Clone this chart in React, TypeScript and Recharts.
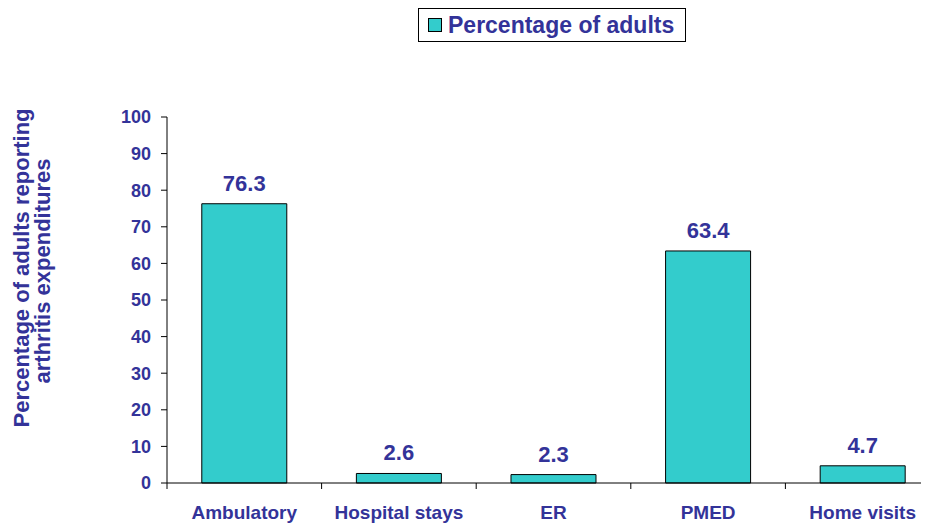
import { BarChart, Bar, XAxis, YAxis, Legend, LabelList, Label } from 'recharts';

const categories = ['Ambulatory', 'Hospital stays', 'ER', 'PMED', 'Home visits'];
const percentages = [76.3, 2.6, 2.3, 63.4, 4.7];
const yTicks = [0, 10, 20, 30, 40, 50, 60, 70, 80, 90, 100];

const data = categories.map((name, i) => ({ name, value: percentages[i] }));

const FONT = '"Liberation Sans", Arial, sans-serif';
const TEXT = '#333399';

const CategoryTick = (props: any) => {
  const { x, y, payload, width } = props;
  const half = width / categories.length / 2;
  return (
    <g>
      <line x1={x - half} y1={y - 8} x2={x - half} y2={y - 2} stroke="#000" />
      <text x={x} y={y + 28} textAnchor="middle" fill={TEXT} fontFamily={FONT} fontWeight="bold" fontSize={19}>
        {payload.value}
      </text>
    </g>
  );
};

const LegendBox = () => (
  <div
    style={{
      position: 'absolute',
      left: 410,
      top: 0,
      width: 268,
      height: 34,
      border: '1px solid #000',
      background: '#fff',
      display: 'flex',
      alignItems: 'center',
      fontFamily: FONT,
      fontWeight: 'bold',
      fontSize: 23,
      color: TEXT,
      boxSizing: 'border-box',
      whiteSpace: 'nowrap',
    }}
  >
    <span style={{ display: 'inline-block', width: 12, height: 12, background: '#33CCCC', border: '1px solid #000', marginLeft: 9, marginRight: 6 }} />
    Percentage of adults
  </div>
);

const YTitle = (props: any) => {
  const { viewBox } = props;
  const cy = viewBox.y + viewBox.height / 2;
  return (
    <g fontFamily={FONT} fontWeight="bold" fontSize={22} fill={TEXT} textAnchor="middle">
      <text transform={`translate(${13}, ${cy - 32}) rotate(-90)`} dominantBaseline="central">
        Percentage of adults reporting
      </text>
      <text transform={`translate(${34}, ${cy - 29}) rotate(-90)`} dominantBaseline="central">
        arthritis expenditures
      </text>
    </g>
  );
};

export default function App() {
  return (
    <div style={{ width: 921, height: 516, overflow: 'hidden', position: 'relative' }}>
      <BarChart
        width={940}
        height={516}
        data={data}
        margin={{ top: 109, right: 8, bottom: 11, left: 99 }}
        barCategoryGap="22.5%"
      >
        <Legend content={() => <LegendBox />} wrapperStyle={{ top: 0, left: 0, width: 921 }} />
        <XAxis
          dataKey="name"
          height={30}
          axisLine={{ stroke: '#000' }}
          tickLine={false}
          tick={<CategoryTick />}
          interval={0}
        />
        <YAxis
          width={60}
          domain={[0, 100]}
          ticks={yTicks}
          interval={0}
          axisLine={{ stroke: '#000' }}
          tickLine={{ stroke: '#000' }}
          tickSize={6}
          tickMargin={10}
          tick={{ fill: TEXT, fontFamily: FONT, fontWeight: 'bold', fontSize: 18 }}
        >
          <Label content={<YTitle />} />
        </YAxis>
        <Bar dataKey="value" fill="#33CCCC" stroke="#000" strokeWidth={1} isAnimationActive={false}>
          <LabelList dataKey="value" position="top" offset={13} fill={TEXT} fontFamily={FONT} fontWeight="bold" fontSize={22} />
        </Bar>
      </BarChart>
    </div>
  );
}
